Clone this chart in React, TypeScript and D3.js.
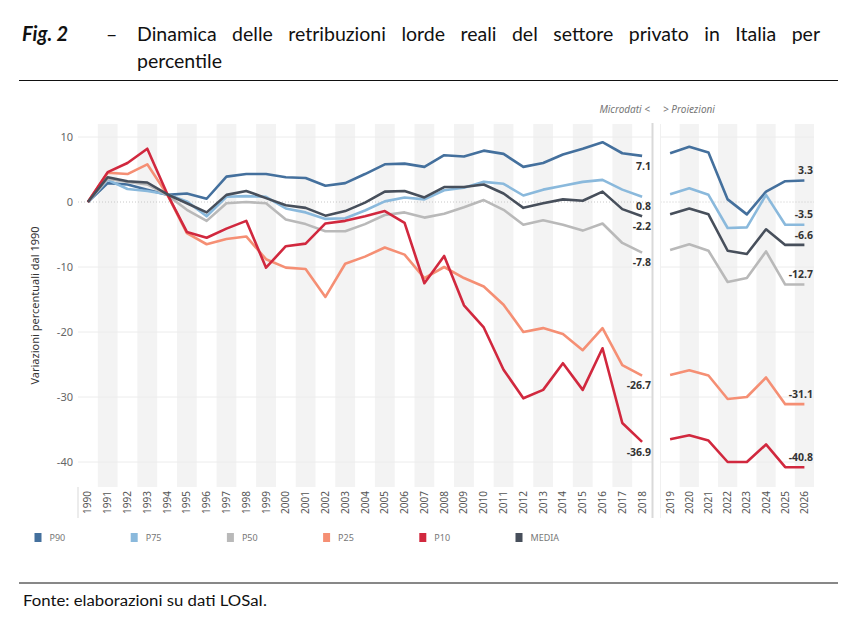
import React, { useEffect, useRef } from 'react';
import * as d3 from 'd3';

// years of the two panels
const yearsHist = d3.range(1990, 2019);
const yearsProj = d3.range(2019, 2027);

// microdati 1990-2018
const p90Hist = [0, 2.9, 2.7, 1.9, 1.1, 1.3, 0.5, 3.9, 4.3, 4.3, 3.8, 3.7, 2.5, 2.9, 4.3, 5.8, 5.9, 5.4, 7.2, 7.0, 7.9, 7.4, 5.4, 6.0, 7.3, 8.2, 9.2, 7.5, 7.1];
const p75Hist = [0, 3.4, 2.0, 1.7, 1.2, 0.1, -2.2, 0.8, 0.9, 0.8, -1.0, -1.6, -2.6, -2.5, -1.3, 0.1, 0.7, 0.4, 1.8, 2.2, 3.1, 2.8, 1.0, 1.9, 2.5, 3.1, 3.4, 1.9, 0.8];
const p50Hist = [0, 3.6, 3.1, 2.7, 1.1, -1.2, -2.9, -0.2, 0.0, -0.2, -2.7, -3.4, -4.5, -4.5, -3.4, -2.0, -1.6, -2.4, -1.8, -0.8, 0.3, -1.2, -3.5, -2.8, -3.5, -4.4, -3.3, -6.3, -7.8];
const p25Hist = [0, 4.5, 4.3, 5.8, 1.2, -4.8, -6.5, -5.7, -5.3, -8.8, -10.1, -10.3, -14.6, -9.5, -8.4, -7.0, -8.1, -11.7, -10.0, -11.7, -13.0, -15.8, -20.0, -19.4, -20.3, -22.8, -19.4, -25.1, -26.7];
const p10Hist = [0, 4.6, 6.0, 8.2, 1.3, -4.6, -5.5, -4.1, -2.9, -10.1, -6.8, -6.4, -3.3, -2.9, -2.2, -1.4, -3.2, -12.5, -8.3, -15.9, -19.3, -25.8, -30.2, -28.9, -24.8, -28.9, -22.5, -34.0, -36.9];
const mediaHist = [0, 3.8, 3.2, 3.0, 1.2, -0.2, -1.6, 1.1, 1.7, 0.6, -0.5, -0.9, -2.1, -1.4, -0.1, 1.6, 1.7, 0.7, 2.3, 2.3, 2.7, 1.3, -0.9, -0.2, 0.4, 0.2, 1.6, -1.1, -2.2];

// proiezioni 2019-2026
const p90Proj = [7.5, 8.5, 7.6, 0.4, -1.9, 1.6, 3.2, 3.3];
const p75Proj = [1.2, 2.1, 1.1, -4.0, -3.9, 1.1, -3.5, -3.5];
const p50Proj = [-7.4, -6.5, -7.5, -12.3, -11.7, -7.6, -12.7, -12.7];
const p25Proj = [-26.6, -25.9, -26.7, -30.3, -30.0, -27.0, -31.1, -31.1];
const p10Proj = [-36.5, -35.9, -36.7, -40.0, -40.0, -37.3, -40.8, -40.8];
const mediaProj = [-1.9, -1.0, -1.9, -7.5, -8.0, -4.2, -6.6, -6.6];

const seriesNames = ['P90', 'P75', 'P50', 'P25', 'P10', 'MEDIA'];
const seriesColors = ['#44709d', '#8ab9dc', '#b9b9b9', '#f58f74', '#d1283e', '#474f5b'];
const histValues = [p90Hist, p75Hist, p50Hist, p25Hist, p10Hist, mediaHist];
const projValues = [p90Proj, p75Proj, p50Proj, p25Proj, p10Proj, mediaProj];
const yTicks = [10, 0, -10, -20, -30, -40];

const W = 857;
const H = 624;
const plotTop = 124;
const plotBottom = 487;

const App: React.FC = () => {
  const titleRef = useRef<SVGTextElement>(null);

  // justify the first title line like the original document
  useEffect(() => {
    const t = titleRef.current;
    if (!t) return;
    const target = 820 - 137;
    const len = t.getComputedTextLength();
    const spaces = (t.textContent || '').split(' ').length - 1;
    if (spaces > 0 && len < target) {
      t.setAttribute('word-spacing', String((target - len) / spaces));
    }
  }, []);

  const y = d3.scaleLinear().domain([-40, 10]).range([462, 137]);
  const xL = d3.scaleBand<number>().domain(yearsHist).range([78, 652]).padding(0);
  const xR = d3.scaleBand<number>().domain(yearsProj).range([660.5, 814]).padding(0);

  const lineL = d3.line<number>()
    .x((_, i) => (xL(yearsHist[i]) as number) + xL.bandwidth() / 2)
    .y(d => y(d));
  const lineR = d3.line<number>()
    .x((_, i) => (xR(yearsProj[i]) as number) + xR.bandwidth() / 2)
    .y(d => y(d));

  const chartFont = '"Noto Sans", "Open Sans", sans-serif';
  const docFont = 'Lato, "Noto Sans", sans-serif';

  return (
    <svg width={W} height={H} style={{ position: 'absolute', left: 0, top: 0, background: '#fff' }}>
      {/* title */}
      <text x={22} y={41} fontFamily={docFont} fontSize={20} fontWeight="bold" fontStyle="italic" fill="#111">Fig. 2</text>
      <text x={106} y={41} fontFamily={docFont} fontSize={19.5} fill="#111">–</text>
      <text ref={titleRef} x={137} y={41} fontFamily={docFont} fontSize={19.5} fill="#111">
        Dinamica delle retribuzioni lorde reali del settore privato in Italia per
      </text>
      <text x={137} y={68} fontFamily={docFont} fontSize={19.5} fill="#111">percentile</text>
      <line x1={19} x2={838} y1={80.5} y2={80.5} stroke="#111" strokeWidth={1} />

      {/* bands */}
      {yearsHist.filter(yr => yr % 2 === 1).map(yr => (
        <rect key={'bl' + yr} x={xL(yr)} y={plotTop} width={xL.bandwidth()} height={plotBottom - plotTop} fill="#f3f3f3" />
      ))}
      {yearsProj.filter(yr => yr % 2 === 0).map(yr => (
        <rect key={'br' + yr} x={xR(yr)} y={plotTop} width={xR.bandwidth()} height={plotBottom - plotTop} fill="#f3f3f3" />
      ))}

      {/* gridlines */}
      {yTicks.map(t => (
        <g key={'g' + t}>
          <line x1={78} x2={652} y1={y(t)} y2={y(t)} stroke={t === 0 ? '#c8c8c8' : '#ececec'} strokeWidth={1}
            strokeDasharray={t === 0 ? '1,2' : undefined} />
          <line x1={660.5} x2={814} y1={y(t)} y2={y(t)} stroke={t === 0 ? '#c8c8c8' : '#ececec'} strokeWidth={1}
            strokeDasharray={t === 0 ? '1,2' : undefined} />
        </g>
      ))}

      {/* panel dividers */}
      <line x1={652.5} x2={652.5} y1={plotTop - 1} y2={518} stroke="#d9d9d9" strokeWidth={2} />
      <line x1={660.5} x2={660.5} y1={plotTop} y2={518} stroke="#f0f0f0" strokeWidth={1} />
      <line x1={78} x2={78} y1={plotBottom} y2={518} stroke="#d9d9d9" strokeWidth={1} />

      {/* panel headers */}
      <text x={650} y={113} textAnchor="end" fontFamily={chartFont} fontSize={10} fontStyle="italic" fill="#777">Microdati &lt;</text>
      <text x={663} y={113} fontFamily={chartFont} fontSize={10} fontStyle="italic" fill="#777">&gt; Proiezioni</text>

      {/* y axis */}
      {yTicks.map(t => (
        <text key={'yt' + t} x={73} y={y(t)} dy="0.35em" textAnchor="end" fontFamily={chartFont} fontSize={11} fill="#666">{t}</text>
      ))}
      <text transform={`translate(39,${(plotTop + plotBottom) / 2}) rotate(-90)`} textAnchor="middle"
        fontFamily={chartFont} fontSize={11} fill="#333">Variazioni percentuali dal 1990</text>

      {/* x axis */}
      {yearsHist.map(yr => (
        <text key={'xl' + yr} transform={`translate(${(xL(yr) as number) + xL.bandwidth() / 2},491) rotate(-90)`}
          textAnchor="end" dy="0.35em" fontFamily={chartFont} fontSize={10} fill="#555">{yr}</text>
      ))}
      {yearsProj.map(yr => (
        <text key={'xr' + yr} transform={`translate(${(xR(yr) as number) + xR.bandwidth() / 2},491) rotate(-90)`}
          textAnchor="end" dy="0.35em" fontFamily={chartFont} fontSize={10} fill="#555">{yr}</text>
      ))}

      {/* lines */}
      {seriesNames.map((name, i) => (
        <g key={'s' + name}>
          <path d={lineL(histValues[i]) as string} fill="none" stroke={seriesColors[i]} strokeWidth={2.6} strokeLinejoin="round" />
          <path d={lineR(projValues[i]) as string} fill="none" stroke={seriesColors[i]} strokeWidth={2.6} strokeLinejoin="round" />
        </g>
      ))}

      {/* end labels */}
      {seriesNames.map((name, i) => {
        const vL = histValues[i][histValues[i].length - 1];
        const vR = projValues[i][projValues[i].length - 1];
        return (
          <g key={'lab' + name}>
            <text x={651} y={y(vL) + 10} dy="0.35em" textAnchor="end" fontFamily={chartFont} fontSize={10.5} fontWeight="bold" fill="#333">{vL.toFixed(1)}</text>
            <text x={813} y={y(vR) - 10} dy="0.35em" textAnchor="end" fontFamily={chartFont} fontSize={10.5} fontWeight="bold" fill="#333">{vR.toFixed(1)}</text>
          </g>
        );
      })}

      {/* legend */}
      {seriesNames.map((name, i) => (
        <g key={'lg' + name} transform={`translate(${34.5 + i * 96.2},533)`}>
          <rect x={0} y={0} width={7} height={9} fill={seriesColors[i]} />
          <text x={15} y={4.5} dy="0.35em" fontFamily={chartFont} fontSize={9} fill="#777">{name}</text>
        </g>
      ))}

      {/* footer */}
      <line x1={19} x2={838} y1={583} y2={583} stroke="#111" strokeWidth={1} />
      <text x={23} y={606} fontFamily={docFont} fontSize={15.5} fill="#111" textLength={244} lengthAdjust="spacingAndGlyphs">Fonte: elaborazioni su dati LOSaI.</text>
    </svg>
  );
};

export default App;
